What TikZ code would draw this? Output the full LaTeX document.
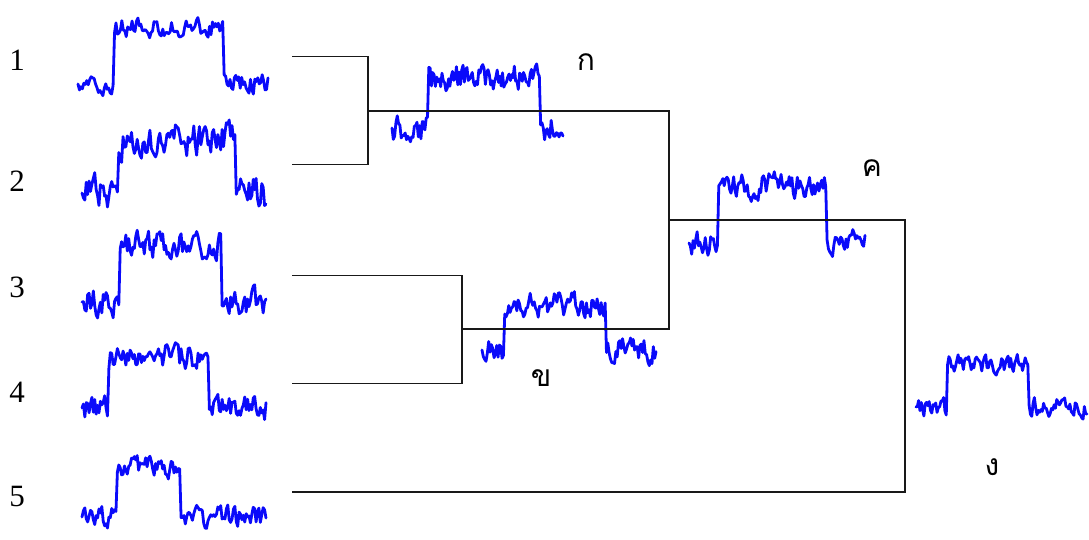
\documentclass[tikz,border=0pt]{standalone}
\usepackage{fontspec}
\setmainfont{Liberation Serif}
\newfontfamily\thaifont[Script=Thai]{Loma}
\definecolor{sigblue}{RGB}{10,10,250}
\tikzset{
  sigline/.style={draw=sigblue, line width=2.8pt, line join=round, line cap=round},
  treeline/.style={draw=black!90, line width=1.5pt},
  numlbl/.style={font=\fontsize{31}{31}\selectfont, inner sep=0pt},
  thlbl/.style={font=\thaifont\fontsize{30}{30}\selectfont, inner sep=0pt}
}
\newcommand\sigwave[8]{%
  \pgfmathsetseed{#8}%
  \pgfmathsetmacro\mystep{(#4-#1)/130}%
  \xdef\sigpts{(#1,#5)}%
  \gdef\signz{0}%
  \foreach \k in {1,...,130}{%
    \pgfmathsetmacro\mysx{#1+\mystep*\k}%
    \pgfmathsetmacro\mysn{0.4*\signz+#7*rand}%
    \global\let\signz\mysn
    \pgfmathsetmacro\mysy{\mysn+(\mysx>#2)*(\mysx<#3)*(#6-#5)+#5}%
    \xdef\sigpts{\sigpts -- (\mysx,\mysy)}%
  }%
  \draw[sigline] \sigpts;%
}
\begin{document}
\begin{tikzpicture}[x=1pt,y=-1pt]
\useasboundingbox (0,0) rectangle (1089,539);
% numbers
\node[numlbl] (n1) at (17,60) {1};
\node[numlbl] (n2) at (17,181) {2};
\node[numlbl] (n3) at (17,287) {3};
\node[numlbl] (n4) at (17,392) {4};
\node[numlbl] (n5) at (17,496) {5};
% signals
\sigwave{78}{114}{224}{268}{84}{27}{9}{11}
\sigwave{82}{118}{236}{266}{193}{140}{15}{22}
\sigwave{82}{120}{222}{266}{302}{245}{12}{33}
\sigwave{82}{108}{209}{266}{408}{357}{11}{44}
\sigwave{82}{116}{180}{266}{517}{467}{9}{55}
\sigwave{392}{428}{540}{563}{128}{78}{12}{66}
\sigwave{482}{504}{606}{656}{350}{304}{11}{77}
\sigwave{689}{718}{827}{865}{243}{186}{11}{88}
\sigwave{916}{947}{1029}{1087}{407}{364}{8}{99}
% tree
\coordinate (l1) at (292,56.5);
\coordinate (l2) at (292,164.5);
\coordinate (l3) at (292,275.5);
\coordinate (l4) at (292,383.5);
\coordinate (l5) at (292,492);
\coordinate (j1) at (368,111);
\coordinate (j2) at (462,329);
\coordinate (j3) at (669,220);
\coordinate (j4) at (905,350);
\draw[treeline] (l1) -| (j1) |- (l2);
\draw[treeline] (l3) -| (j2) |- (l4);
\draw[treeline] (j1) -| (j3) |- (j2);
\draw[treeline] (j3) -| (j4) |- (l5);
% Thai labels
\node[thlbl] (ka) at (586,62) {ก};
\node[thlbl] (kha) at (541,378) {ข};
\node[thlbl] (kho) at (872,168) {ค};
\node[thlbl] (ngo) at (992,467) {ง};
\end{tikzpicture}
\end{document}
